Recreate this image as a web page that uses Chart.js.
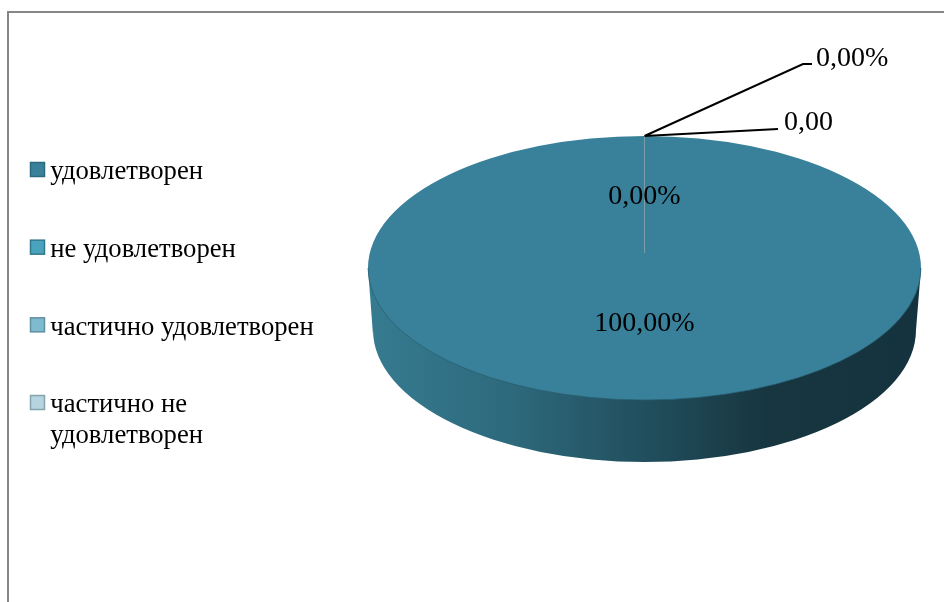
<!DOCTYPE html>
<html>
<head>
<meta charset="utf-8">
<style>
html, body { margin: 0; padding: 0; background: #fff; overflow: hidden; }
#wrap { position: relative; width: 944px; height: 602px; }
#frame { position: absolute; left: 7px; top: 11px; right: -4px; bottom: -4px; border-left: 2px solid #868686; border-top: 2px solid #868686; }
canvas { position: absolute; left: 0; top: 0; }
</style>
<script src="https://cdn.jsdelivr.net/npm/chart.js@4"></script>
</head>
<body>
<div id="wrap">
    <div id="frame"></div>
    <canvas id="chart" width="944" height="602"></canvas>
</div>
<script>
const categories = ['удовлетворен', 'не удовлетворен', 'частично удовлетворен', ['частично не', 'удовлетворен']];
const shares = [100, 0, 0, 0];
const valueLabels = ['100,00%', '0,00%', '0,00', '0,00%'];
const sliceColors = ['#39819a', '#4aa3bd', '#7fbbcf', '#b5d4df'];
const swatchBorders = ['#2a6a7e', '#32788c', '#5f90a2', '#86a4b0'];

const serif = '"Liberation Serif", serif';

// the top face of the tilted pie, in page pixels
const face = { x: 644.5, y: 268, rx: 276.5, ry: 132 };
const base = { x: 644.5, y: 330, rx: 271.5, ry: 132 };

const tiltedPie = {
    id: 'tiltedPie',
    beforeDatasetsDraw(chart) {
        const ctx = chart.ctx;
        const arc = chart.getDatasetMeta(0).data[0];

        // side wall
        const wall = ctx.createLinearGradient(face.x - face.rx, 0, face.x + face.rx, 0);
        wall.addColorStop(0, '#367b90');
        wall.addColorStop(0.25, '#2e6a7d');
        wall.addColorStop(0.5, '#214f5e');
        wall.addColorStop(0.72, '#173640');
        wall.addColorStop(1, '#15333e');
        ctx.save();
        ctx.beginPath();
        ctx.moveTo(face.x - face.rx, face.y);
        ctx.lineTo(base.x - base.rx, base.y + 5);
        ctx.ellipse(base.x, base.y, base.rx, base.ry, 0, Math.PI, 0, true);
        ctx.lineTo(face.x + face.rx, face.y);
        ctx.closePath();
        ctx.fillStyle = wall;
        ctx.fill();
        ctx.restore();

        // squash the library's round pie into the top face
        ctx.save();
        ctx.translate(face.x, face.y);
        ctx.scale(face.rx / arc.outerRadius, face.ry / arc.outerRadius);
        ctx.translate(-arc.x, -arc.y);
    },
    afterDatasetsDraw(chart) {
        const ctx = chart.ctx;
        ctx.restore();

        const top = face.y - face.ry;

        // soft rim where the face meets the wall
        ctx.save();
        ctx.strokeStyle = 'rgba(38, 92, 110, 0.7)';
        ctx.lineWidth = 1;
        ctx.beginPath();
        ctx.ellipse(face.x, face.y, face.rx, face.ry, 0, 0, Math.PI);
        ctx.stroke();

        // seam of the empty slices
        ctx.strokeStyle = '#7d9dab';
        ctx.lineWidth = 1;
        ctx.beginPath();
        ctx.moveTo(face.x, top);
        ctx.lineTo(face.x, 253);
        ctx.stroke();

        // leader lines
        ctx.strokeStyle = '#000';
        ctx.lineWidth = 2;
        ctx.beginPath();
        ctx.moveTo(face.x, top);
        ctx.lineTo(803, 64);
        ctx.lineTo(812, 64);
        ctx.moveTo(face.x, top);
        ctx.lineTo(778, 129);
        ctx.stroke();

        ctx.fillStyle = '#000';
        ctx.font = '28px ' + serif;
        ctx.textBaseline = 'middle';
        ctx.textAlign = 'center';
        ctx.fillText(valueLabels[0], face.x, 324);
        ctx.fillText(valueLabels[1], face.x, 197);
        ctx.textAlign = 'left';
        ctx.fillText(valueLabels[2], 784, 123);
        ctx.fillText(valueLabels[3], 816, 59);
        ctx.restore();
    },
    afterDraw(chart) {
        // legend swatches sit closer to their text than the legend's own box allows
        const ctx = chart.ctx;
        ctx.save();
        ctx.lineWidth = 1.5;
        chart.legend.legendHitBoxes.forEach((box, i) => {
            ctx.fillStyle = sliceColors[i];
            ctx.strokeStyle = swatchBorders[i];
            ctx.fillRect(box.left + 0.5, box.top + 3.5, 14, 14);
            ctx.strokeRect(box.left + 0.5, box.top + 3.5, 14, 14);
        });
        ctx.restore();
    }
};

new Chart(document.getElementById('chart'), {
    type: 'pie',
    data: {
        labels: categories,
        datasets: [{
            data: shares,
            backgroundColor: sliceColors,
            borderWidth: 0,
            hoverOffset: 0
        }]
    },
    options: {
        responsive: false,
        animation: false,
        events: [],
        layout: { padding: { left: -21, top: 108 } },
        plugins: {
            tooltip: { enabled: false },
            legend: {
                position: 'left',
                align: 'start',
                labels: {
                    boxWidth: 7,
                    boxHeight: 14,
                    padding: 51,
                    color: '#000',
                    font: { family: serif, size: 26.67, lineHeight: 1.16 },
                    generateLabels: chart => chart.data.labels.map((text, i) => ({
                        text: text,
                        fillStyle: 'rgba(0, 0, 0, 0)',
                        strokeStyle: 'rgba(0, 0, 0, 0)',
                        lineWidth: 0,
                        index: i
                    }))
                }
            }
        }
    },
    plugins: [tiltedPie]
});
</script>
</body>
</html>
